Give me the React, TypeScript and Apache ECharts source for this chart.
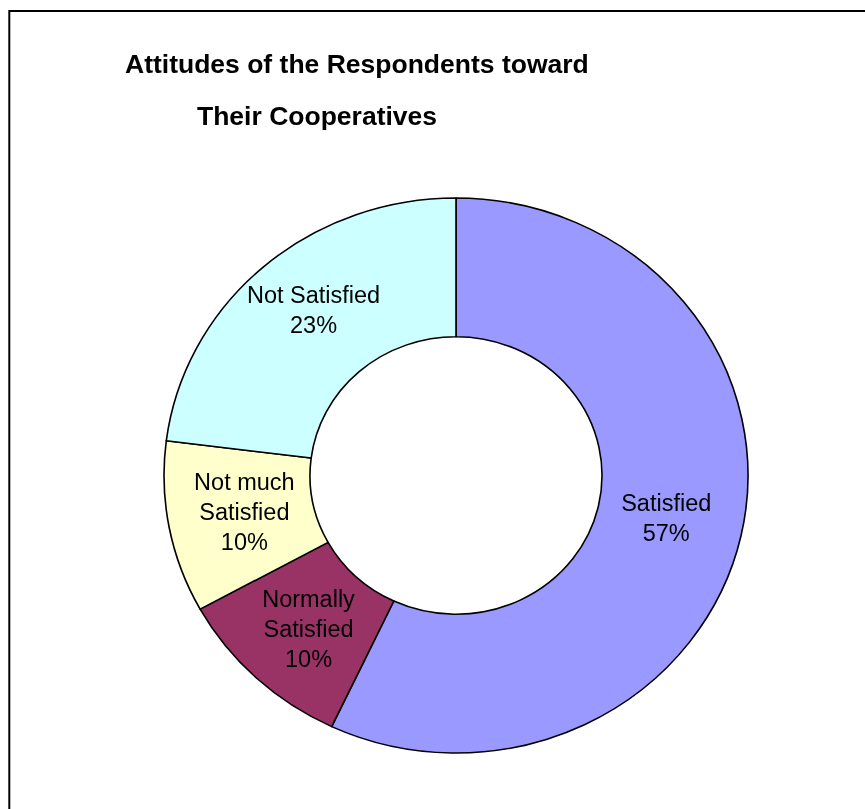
import React, { useEffect, useRef } from "react";
import * as echarts from "echarts";

const titleLines = ["Attitudes of the Respondents toward", "Their Cooperatives"];
const categories = ["Satisfied", "Normally\nSatisfied", "Not much\nSatisfied", "Not Satisfied"];
const values = [57, 10, 10, 23];
const colors = ["#9999FF", "#993366", "#FFFFCC", "#CCFFFF"];

const FONT = "'Liberation Sans', Arial, Helvetica, sans-serif";
const CX = 456;
const CY = 475.5;
const R_OUT = 292;
const R_IN = 146;
const Y_SCALE = 277.5 / 292;

export default function App() {
  const ringRef = useRef<HTMLDivElement>(null);
  const ref = useRef<HTMLDivElement>(null);
  useEffect(() => {
    if (!ref.current || !ringRef.current) return;
    // ring drawn in its own layer, stretched to the ellipse of the original
    const ring = echarts.init(ringRef.current, undefined, { renderer: "svg" });
    ring.setOption({
      animation: false,
      backgroundColor: "#ffffff",
      series: [
        {
          type: "pie",
          center: [CX, CY],
          radius: [R_IN, R_OUT],
          startAngle: 90,
          clockwise: true,
          silent: true,
          label: { show: false },
          labelLine: { show: false },
          itemStyle: { borderColor: "#000", borderWidth: 1.6 },
          emphasis: { disabled: true },
          data: categories.map((c, i) => ({
            name: c,
            value: values[i],
            itemStyle: { color: colors[i] },
          })),
        },
      ],
    });
    const chart = echarts.init(ref.current, undefined, { renderer: "svg" });
    chart.setOption({
      animation: false,
      backgroundColor: "transparent",
      title: [
        {
          text: titleLines[0],
          left: 125,
          top: 50,
          padding: 0,
          textStyle: { fontFamily: FONT, fontWeight: "bold", fontSize: 26.5, color: "#000" },
        },
        {
          text: titleLines[1],
          left: 197,
          top: 102,
          padding: 0,
          textStyle: { fontFamily: FONT, fontWeight: "bold", fontSize: 26.5, color: "#000" },
        },
      ],
      graphic: [
        {
          type: "rect",
          silent: true,
          shape: { x: 9.3, y: 11, width: 1000, height: 1000 },
          style: { fill: "none", stroke: "#000", lineWidth: 2 },
        },
      ],
      series: [
        {
          type: "pie",
          center: [CX, CY - 4],
          radius: [R_IN * 0.97, R_OUT * 0.97],
          startAngle: 90,
          clockwise: true,
          avoidLabelOverlap: false,
          silent: true,
          itemStyle: { color: "transparent", borderWidth: 0 },
          label: {
            show: true,
            position: "inside",
            color: "#000",
            fontFamily: FONT,
            fontSize: 23.5,
            lineHeight: 30,
            align: "center",
            formatter: (p: any) => `${p.name}\n${p.value}%`,
          },
          labelLine: { show: false },
          emphasis: { disabled: true },
          data: categories.map((c, i) => ({ name: c, value: values[i] })),
        },
      ],
    });
    return () => {
      chart.dispose();
      ring.dispose();
    };
  }, []);
  return (
    <>
      <div
        ref={ringRef}
        style={{
          position: "fixed",
          left: 0,
          top: 0,
          width: 865,
          height: 809,
          transform: `scaleY(${Y_SCALE})`,
          transformOrigin: `0px ${CY}px`,
        }}
      />
      <div
        ref={ref}
        style={{ position: "fixed", left: 0, top: 0, width: 865, height: 809 }}
      />
    </>
  );
}
